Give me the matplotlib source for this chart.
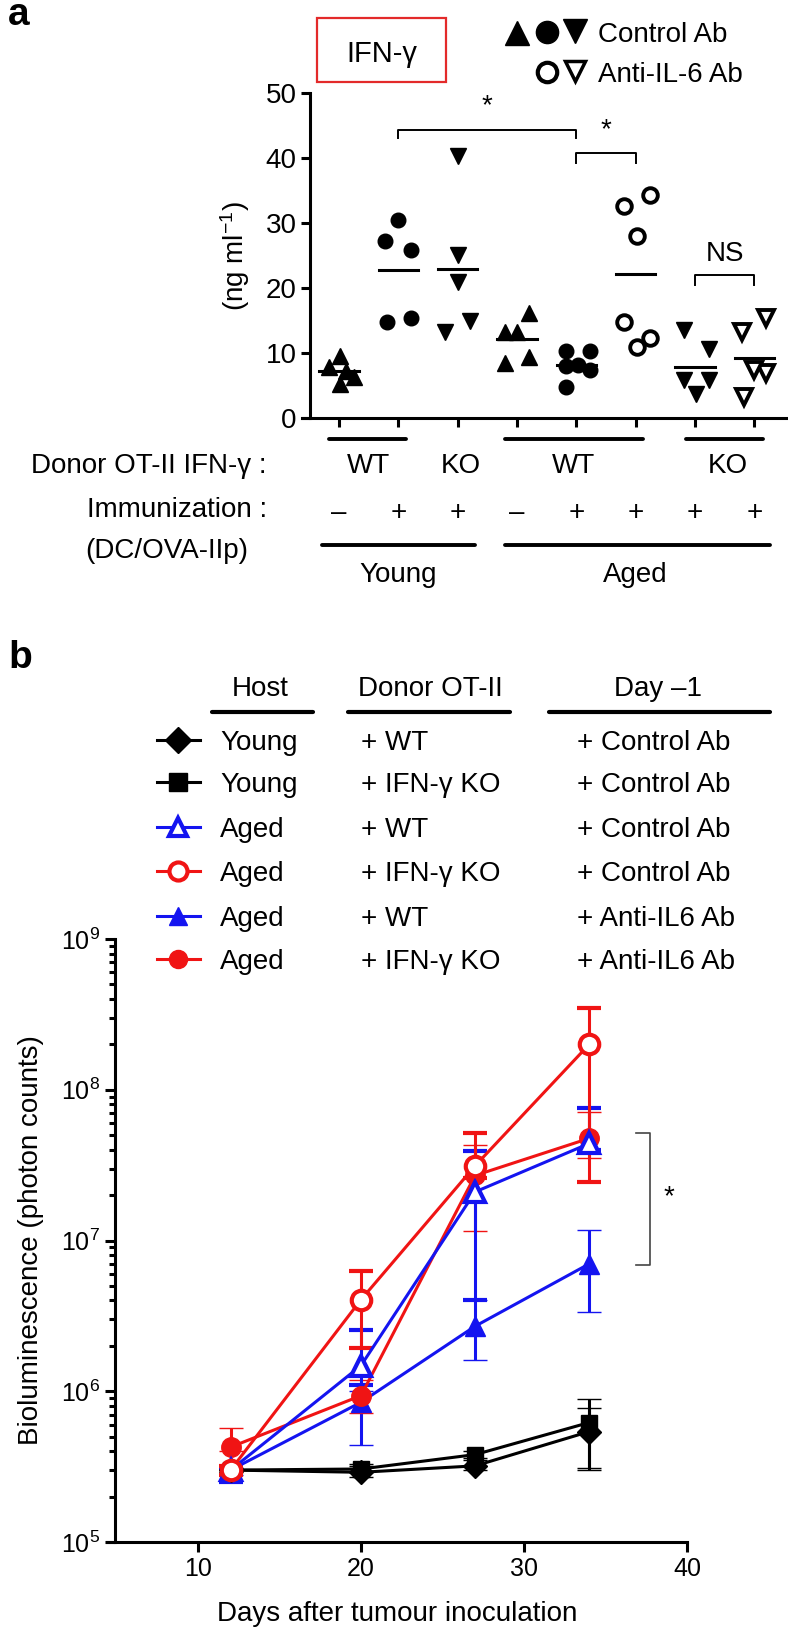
import matplotlib
matplotlib.use('Agg')
import matplotlib.pyplot as plt
import numpy as np
from matplotlib.patches import Rectangle
from matplotlib.transforms import blended_transform_factory
from matplotlib.ticker import LogLocator, NullFormatter

FONT = 'Liberation Sans'
plt.rcParams['font.family'] = [FONT, 'DejaVu Sans']
plt.rcParams['mathtext.fontset'] = 'custom'
plt.rcParams['mathtext.rm'] = FONT
plt.rcParams['mathtext.it'] = FONT + ':italic'
plt.rcParams['mathtext.bf'] = FONT + ':bold'

# ---------------- data: panel a (IFN-gamma, ng/ml) ----------------
young_wt_ctrl_noimm = [7.9, 9.6, 5.3, 6.4, 7.3]
young_wt_ctrl_imm = [30.5, 27.3, 25.9, 14.8, 15.4]
young_ko_ctrl_imm = [40.3, 25.1, 21.0, 13.3, 14.9]
aged_wt_ctrl_noimm = [13.3, 13.2, 16.2, 8.5, 9.5]
aged_wt_ctrl_imm = [10.3, 8.1, 4.8, 10.3, 7.4, 8.2]
aged_wt_anti_imm = [32.6, 34.4, 28.0, 14.8, 10.9, 12.3]
aged_ko_ctrl_imm = [13.6, 10.6, 5.9, 3.8, 5.9]
aged_ko_anti_imm = [15.4, 13.2, 7.0, 7.4, 3.3]
immunization = ['\u2013', '+', '+', '\u2013', '+', '+', '+', '+']

# ---------------- data: panel b (bioluminescence) ----------------
days = [12, 20, 27, 34]
young_wt_mean = [3.0e5, 2.9e5, 3.2e5, 5.4e5]
young_wt_lo = [2.9e5, 2.7e5, 3.0e5, 3.1e5]
young_wt_hi = [3.1e5, 3.2e5, 3.5e5, 7.8e5]
young_ko_mean = [3.0e5, 3.05e5, 3.8e5, 6.2e5]
young_ko_lo = [2.9e5, 2.9e5, 3.6e5, 3.0e5]
young_ko_hi = [3.1e5, 3.3e5, 4.0e5, 8.9e5]
aged_wt_ctrl_mean = [3.0e5, 1.48e6, 2.1e7, 4.4e7]
aged_wt_ctrl_lo = [2.5e5, 1.1e6, 4.05e6, 4.0e7]
aged_wt_ctrl_hi = [3.1e5, 2.55e6, 3.9e7, 7.6e7]
aged_ko_ctrl_mean = [3.0e5, 4.05e6, 3.13e7, 2.0e8]
aged_ko_ctrl_lo = [2.8e5, 1.94e6, 2.6e7, 2.45e7]
aged_ko_ctrl_hi = [3.2e5, 6.3e6, 5.2e7, 3.5e8]
aged_wt_anti_mean = [3.0e5, 8.45e5, 2.7e6, 7.0e6]
aged_wt_anti_lo = [2.8e5, 4.4e5, 1.6e6, 3.33e6]
aged_wt_anti_hi = [3.1e5, 1.0e6, 4.05e6, 1.17e7]
aged_ko_anti_mean = [4.26e5, 9.35e5, 2.7e7, 4.76e7]
aged_ko_anti_lo = [4.0e5, 7.2e5, 1.15e7, 3.5e7]
aged_ko_anti_hi = [5.7e5, 1.19e6, 4.3e7, 7.15e7]

# ---------------- figure ----------------
W, H = 788, 1636
fig = plt.figure(figsize=(W / 100, H / 100), dpi=100)


def rect(x0, y0, x1, y1):
    return [x0 / W, 1 - y1 / H, (x1 - x0) / W, (y1 - y0) / H]


ov = fig.add_axes([0, 0, 1, 1])
ov.set_xlim(0, W)
ov.set_ylim(H, 0)
ov.axis('off')
ov.set_zorder(5)
ov.patch.set_visible(False)

FS = 20
BLUE = '#1414f0'
RED = '#f01414'
LW = 2.2


def T(ax, x, yc, s, size=FS, ha='left', transform=None, **kw):
    # place text so that its cap height is centred on yc (pixels)
    off = 0.36 * size * 100 / 72
    ax.text(x, yc + off, s, ha=ha, va='baseline', fontsize=size,
            transform=transform if transform is not None else ax.transData, **kw)


# ======================= panel a =======================
axA = fig.add_axes(rect(301.6, 93.3, 787, 418.3))
axA.set_facecolor('none')
axA.set_xlim(-0.63, 7.55)
axA.set_ylim(0, 50)
for s in ['top', 'right']:
    axA.spines[s].set_visible(False)
axA.spines['left'].set_position(('data', -0.49))
axA.spines['left'].set_linewidth(LW)
axA.spines['bottom'].set_linewidth(LW)
axA.set_yticks([0, 10, 20, 30, 40, 50])
axA.set_xticks(np.arange(8))
axA.tick_params(axis='y', length=6.5, width=LW, labelsize=FS, pad=3)
axA.tick_params(axis='x', length=6.5, width=LW, labelbottom=False)
axA.set_ylabel('(ng ml$^{-1}$)', fontsize=FS, labelpad=10)

groups = [young_wt_ctrl_noimm, young_wt_ctrl_imm, young_ko_ctrl_imm, aged_wt_ctrl_noimm,
          aged_wt_ctrl_imm, aged_wt_anti_imm, aged_ko_ctrl_imm, aged_ko_anti_imm]
jitter = [[-0.16, 0.01, 0.01, 0.25, 0.12],
          [0.0, -0.22, 0.22, -0.19, 0.22],
          [0.0, 0.01, 0.01, -0.21, 0.2],
          [-0.21, 0.0, 0.2, -0.21, 0.2],
          [-0.18, -0.18, -0.18, 0.23, 0.23, 0.03],
          [-0.2, 0.24, 0.02, -0.2, 0.02, 0.24],
          [-0.18, 0.23, -0.18, 0.01, 0.23],
          [0.2, -0.21, 0.2, 0.0, -0.18]]
mk = ['^', 'o', 'v', '^', 'o', 'o', 'v', 'v']
filled = [True, True, True, True, True, False, True, False]
for i, (vals, jit) in enumerate(zip(groups, jitter)):
    xs = i + np.array(jit)
    axA.plot(xs, vals, ls='none', marker=mk[i], ms=11.5 if mk[i] != 'o' else 10.5,
             mfc='black' if filled[i] else 'white', mec='black',
             mew=1 if filled[i] else 2.8, clip_on=False, zorder=3)
    m = np.mean(vals)
    axA.plot([i - 0.33, i + 0.33], [m, m], color='black', lw=LW, zorder=4)


def bracket(ax, x0, x1, y, leg, lw=1.4):
    ax.plot([x0, x0, x1, x1], [y - leg, y, y, y - leg], color='black', lw=lw, clip_on=False)


bracket(axA, 1, 4, 44.4, 1.3)
axA.text(2.5, 46.0, '*', ha='center', va='bottom', fontsize=FS)
bracket(axA, 4, 5, 40.8, 1.5)
axA.text(4.5, 42.3, '*', ha='center', va='bottom', fontsize=FS)
bracket(axA, 6, 7, 22.0, 1.5)
axA.text(6.5, 23.3, 'NS', ha='center', va='bottom', fontsize=FS)

# labels beneath the axis (x in group units, y in pixels)
trA = blended_transform_factory(axA.transData, ov.transData)
for x0, x1 in [(-0.17, 1.13), (2.79, 5.12), (5.84, 7.15)]:
    ov.plot([x0, x1], [439, 439], color='black', lw=LW + 0.6, transform=trA,
            solid_capstyle='round')
for x0, x1 in [(-0.29, 2.29), (2.79, 7.26)]:
    ov.plot([x0, x1], [545, 545], color='black', lw=LW + 0.6, transform=trA,
            solid_capstyle='round')
for xg, s in [(0.5, 'WT'), (2.05, 'KO'), (3.95, 'WT'), (6.55, 'KO')]:
    T(ov, xg, 463, s, ha='center', transform=trA)
for i, s in enumerate(immunization):
    T(ov, i, 510, s, ha='center', transform=trA)
T(ov, 1.0, 572, 'Young', ha='center', transform=trA)
T(ov, 5.0, 572, 'Aged', ha='center', transform=trA)
T(ov, 267, 463, 'Donor OT-II IFN-\u03b3 :', ha='right')
T(ov, 267, 507, 'Immunization :', ha='right')
T(ov, 248, 548, '(DC/OVA-IIp)', ha='right')

# title box and legend of panel a
ov.add_patch(Rectangle((317, 18), 129, 64, fill=False, edgecolor='#e32a2a', lw=1.6))
T(ov, 382, 52, 'IFN-\u03b3', size=21, ha='center')
ov.plot([517], [33], marker='^', ms=17, color='black', ls='none')
ov.plot([547], [32], marker='o', ms=16, color='black', ls='none')
ov.plot([575], [31], marker='v', ms=17, color='black', ls='none')
ov.plot([547], [72], marker='o', ms=14, mfc='white', mec='black', mew=3, ls='none')
ov.plot([575], [71], marker='v', ms=15, mfc='white', mec='black', mew=2.5, ls='none')
T(ov, 598, 32, 'Control Ab')
T(ov, 598, 72, 'Anti-IL-6 Ab')
ov.text(8, 25, 'a', fontsize=28, fontweight='bold', va='baseline')
ov.text(8, 668, 'b', fontsize=28, fontweight='bold', va='baseline')

# ======================= panel b =======================
axB = fig.add_axes(rect(106.7, 939, 687, 1542))
axB.set_facecolor('none')
axB.set_yscale('log')
axB.set_xlim(4.4, 40)
axB.set_ylim(1e5, 1e9)
for s in ['top', 'right']:
    axB.spines[s].set_visible(False)
axB.spines['left'].set_position(('data', 4.92))
axB.spines['left'].set_linewidth(LW)
axB.spines['bottom'].set_linewidth(LW)
axB.set_xticks([10, 20, 30, 40])
axB.yaxis.set_major_locator(LogLocator(base=10, numticks=10))
axB.yaxis.set_minor_locator(LogLocator(base=10, subs=np.arange(2, 10), numticks=20))
axB.yaxis.set_minor_formatter(NullFormatter())
axB.tick_params(axis='both', which='major', length=7, width=LW, labelsize=18, pad=4)
axB.tick_params(axis='y', which='minor', length=4, width=LW)
axB.set_xlabel('Days after tumour inoculation', fontsize=FS, labelpad=14)
axB.set_ylabel('Bioluminescence (photon counts)', fontsize=FS, labelpad=12)

series = [
    (young_wt_mean, young_wt_lo, young_wt_hi, 'D', 'black', 'black', 12),
    (young_ko_mean, young_ko_lo, young_ko_hi, 's', 'black', 'black', 12),
    (aged_wt_anti_mean, aged_wt_anti_lo, aged_wt_anti_hi, '^', BLUE, BLUE, 14),
    (aged_ko_anti_mean, aged_ko_anti_lo, aged_ko_anti_hi, 'o', RED, RED, 14),
    (aged_wt_ctrl_mean, aged_wt_ctrl_lo, aged_wt_ctrl_hi, '^', BLUE, 'white', 14),
    (aged_ko_ctrl_mean, aged_ko_ctrl_lo, aged_ko_ctrl_hi, 'o', RED, 'white', 14),
]
for mean, lo, hi, m, c, fc, ms in series:
    mean = np.array(mean)
    yerr = [mean - np.array(lo), np.array(hi) - mean]
    axB.errorbar(days, mean, yerr=yerr, marker=m, color=c, mfc=fc, mec=c,
                 mew=3 if fc == 'white' else 1, ms=ms, lw=LW, elinewidth=LW,
                 capsize=8.5, capthick=2.8, clip_on=False, zorder=3)

# significance bracket at the right
axB.plot([36.9, 37.7, 37.7, 36.9], [5.2e7, 5.2e7, 6.9e6, 6.9e6], color='#444444', lw=1.2)
axB.text(38.9, 1.95e7, '*', ha='center', va='center', fontsize=FS)

# legend table of panel b
for xc, s, (x0, x1) in [(260, 'Host', (212, 313)), (430, 'Donor OT-II', (348, 510)),
                        (658, 'Day \u20131', (549, 770))]:
    T(ov, xc, 686, s, ha='center')
    ov.plot([x0, x1], [712, 712], color='black', lw=LW + 0.8, solid_capstyle='round')

rows_y = [740, 782, 827, 871, 916, 959]
hosts = ['Young', 'Young', 'Aged', 'Aged', 'Aged', 'Aged']
donors = ['+ WT', '+ IFN-\u03b3 KO', '+ WT', '+ IFN-\u03b3 KO', '+ WT', '+ IFN-\u03b3 KO']
treat = ['+ Control Ab', '+ Control Ab', '+ Control Ab', '+ Control Ab',
         '+ Anti-IL6 Ab', '+ Anti-IL6 Ab']
leg_style = [('D', 'black', 'black'), ('s', 'black', 'black'), ('^', BLUE, 'white'),
             ('o', RED, 'white'), ('^', BLUE, BLUE), ('o', RED, RED)]
for y, h, d, t, (m, c, fc) in zip(rows_y, hosts, donors, treat, leg_style):
    ov.plot([157, 200], [y, y], color=c, lw=LW)
    ov.plot([178], [y], marker=m, color=c, mfc=fc, mec=c, mew=3 if fc == 'white' else 1,
            ms=13, ls='none')
    T(ov, 220, y, h)
    T(ov, 361, y, d)
    T(ov, 577, y, t)

fig.savefig('out.png', dpi=100)
